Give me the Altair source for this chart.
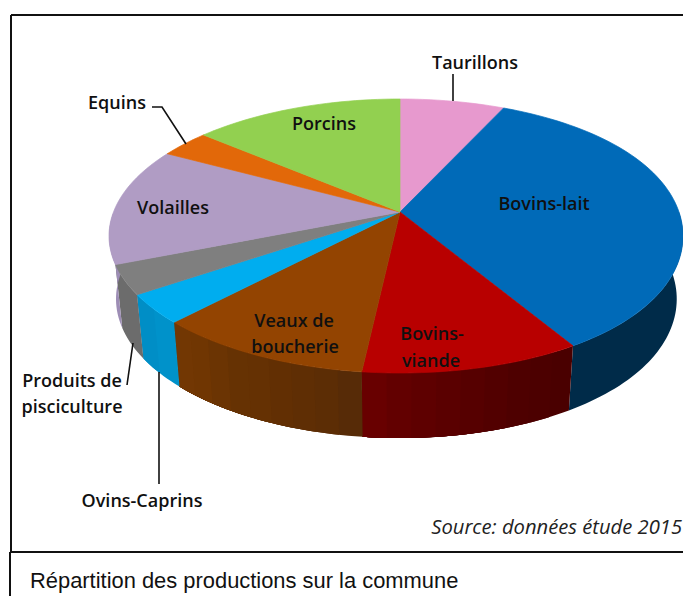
import math
import altair as alt
import pandas as pd

# Slice data: apparent share (%), clockwise from 12 o'clock
categories = ["Taurillons", "Bovins-lait", "Bovins-viande", "Veaux de boucherie", "Ovins-Caprins",
              "Produits de pisciculture", "Volailles", "Equins", "Porcins"]
shares = [5.8, 34.0, 12.3, 12.05, 3.8, 3.7, 13.6, 2.95, 11.8]
top_colors = ["#E799CE", "#006AB8", "#B80000", "#934401", "#00ADEF", "#7F7F7F", "#B09CC4", "#E26809", "#92D050"]
wall_bands = {
    "Bovins-lait": ["#002B49"],
    "Bovins-viande": ["#4A0000", "#4C0000", "#4E0000", "#520000", "#560000", "#5A0000", "#5E0000", "#620000", "#680000"],
    "Veaux de boucherie": ["#572B07", "#5C2D05", "#5F2E04", "#622F03", "#653103", "#663203", "#6B3403", "#703602", "#723703"],
    "Ovins-Caprins": ["#0092CA", "#008EC6"],
    "Produits de pisciculture": ["#6C6C6C"],
    "Volailles": ["#9D8DB5"],
}

# Perspective geometry of the disc: cx, cy, rx, ry
APEX = (400, 212)
TOP_ELLIPSE = (400, 236, 291, 137)
BOTTOM_ELLIPSE = (400, 299, 284, 139)
WALL_FROM, WALL_TO = 80, 280
RIGHT_SQUEEZE = 8  # the page leaves 8px fewer on the right than the reference


def on(ell, t):
    cx, cy, rx, ry = ell
    a = math.radians(t)
    dx = rx * math.sin(a)
    if dx > 0:
        dx -= RIGHT_SQUEEZE * (dx / 291) ** 4
    return cx + dx, cy - ry * math.cos(a)


def arc(ell, t0, t1):
    n = max(2, int(abs(t1 - t0) / 1.5) + 1)
    return [on(ell, t0 + (t1 - t0) * i / n) for i in range(n + 1)]


total = sum(shares)
edges = [0]
for s in shares:
    edges.append(edges[-1] + s / total * 360)

wall_polys = []
top_polys = []


def add(store, points, color):
    pid = len(store)
    points = points + [points[0]]
    store.append(pd.DataFrame({"x": [p[0] for p in points], "y": [p[1] for p in points],
                               "o": range(len(points)), "poly": pid, "c": color}))


for i, name in enumerate(categories):
    bands = wall_bands.get(name)
    if not bands:
        continue
    a0, a1 = max(edges[i], WALL_FROM), min(edges[i + 1], WALL_TO)
    for b, col in enumerate(bands):
        # each band runs to the slice's end; the next one paints over it, so no seam shows
        t0 = a0 + (a1 - a0) * b / len(bands)
        add(wall_polys, arc(TOP_ELLIPSE, t0, a1) + arc(BOTTOM_ELLIPSE, a1, t0), col)

for i, col in enumerate(top_colors):
    add(top_polys, [APEX] + arc(TOP_ELLIPSE, edges[i], edges[i + 1]), col)

walls_df = pd.concat(wall_polys, ignore_index=True)
top_df = pd.concat(top_polys, ignore_index=True)

X = alt.X("x:Q", scale=alt.Scale(domain=[8, 683], range=[0, 675], nice=False, zero=False), axis=None)
Y = alt.Y("y:Q", scale=alt.Scale(domain=[8, 596], range=[0, 588], nice=False, zero=False), axis=None)

walls = alt.Chart(walls_df).mark_line(filled=True, strokeWidth=0, interpolate="linear").encode(
    x=X, y=Y, order="o:Q", detail="poly:N", fill=alt.Fill("c:N", scale=None),
)
pie = alt.Chart(top_df).mark_line(filled=True, strokeWidth=0.7, strokeJoin="round", interpolate="linear").encode(
    x=X, y=Y, order="o:Q", detail="poly:N",
    fill=alt.Fill("c:N", scale=None), stroke=alt.Stroke("c:N", scale=None),
)

# Frame and caption box
frame = alt.Chart(pd.DataFrame({
    "x": [11, 11, 10, 10], "x2": [11, 683, 683, 10],
    "y": [15, 15, 552, 552], "y2": [552, 15, 552, 596],
})).mark_rule(color="#111111", strokeWidth=2).encode(x=X, x2="x2:Q", y=Y, y2="y2:Q")

# Leader lines
leaders = pd.DataFrame({
    "x": [453, 453, 152, 162, 186, 133, 127, 159, 159],
    "y": [74, 101, 107, 107, 144, 343, 385, 372, 484],
    "o": range(9), "g": [0, 0, 1, 1, 1, 2, 2, 3, 3],
})
lead = alt.Chart(leaders).mark_line(color="#111111", strokeWidth=1.6).encode(x=X, y=Y, order="o:Q", detail="g:N")

# Labels
label_text = ["Taurillons", "Equins", "Porcins", "Bovins-lait", "Volailles", "Veaux de", "boucherie",
              "Bovins-", "viande", "Produits de", "pisciculture", "Ovins-Caprins"]
label_x = [475, 117, 324, 544, 173, 294, 295, 432, 431, 72, 72, 142]
label_y = [63.5, 103.5, 124.5, 204.5, 208.5, 321.5, 347.5, 334.5, 361.5, 381.5, 407.5, 501.5]
labels = alt.Chart(pd.DataFrame({"t": label_text, "x": label_x, "y": label_y})).mark_text(
    font="Open Sans", fontWeight=600, fontSize=18, color="#101010", align="center", baseline="middle"
).encode(x=X, y=Y, text="t:N")

source = alt.Chart(pd.DataFrame({"t": ["Source: données étude 2015"], "x": [682], "y": [528]})).mark_text(
    font="Open Sans", fontStyle="italic", fontSize=20.2, color="#222222", align="right", baseline="middle"
).encode(x=X, y=Y, text="t:N")

caption = alt.Chart(pd.DataFrame({"t": ["Répartition des productions sur la commune"], "x": [30], "y": [581]})).mark_text(
    font="Liberation Sans", fontSize=21.9, color="#111111", align="left", baseline="middle"
).encode(x=X, y=Y, text="t:N")

chart = alt.layer(walls, pie, frame, lead, labels, source, caption).properties(
    width=675, height=588, padding=0, background="white",
    autosize=alt.AutoSizeParams(type="none"),
).configure_view(stroke=None)

chart.save("out.html", embed_options={"renderer": "svg", "actions": False})
